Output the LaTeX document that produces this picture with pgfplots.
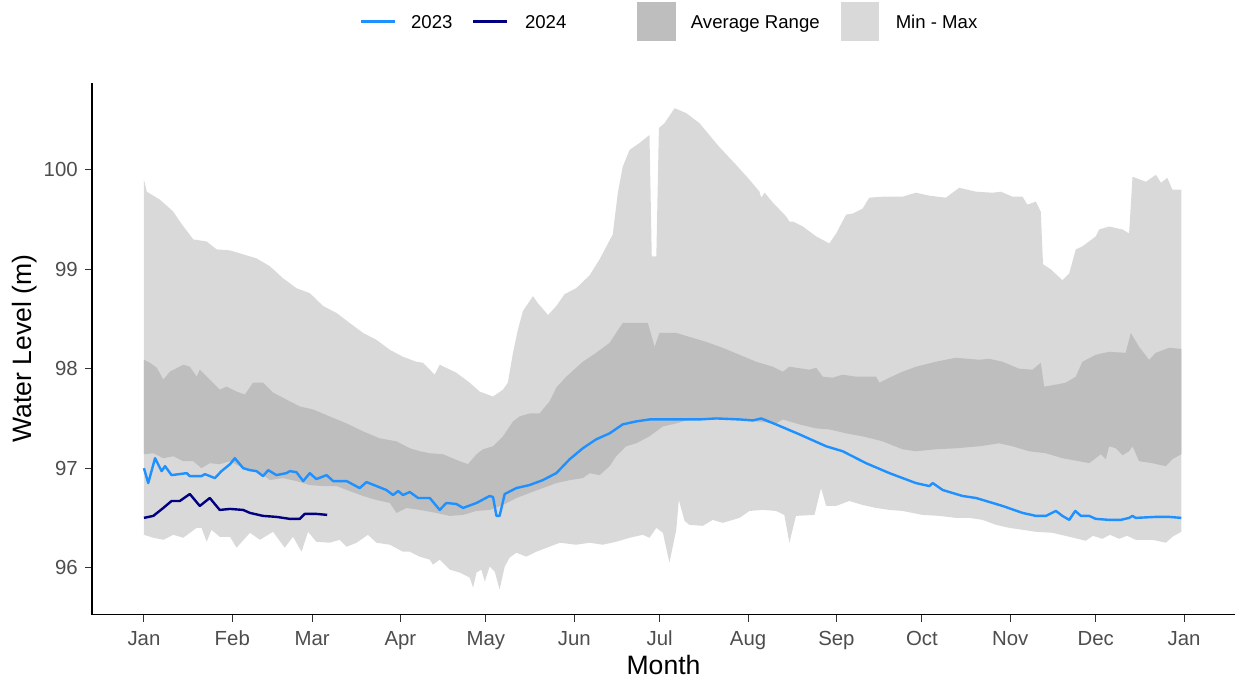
\documentclass[border=0pt]{standalone}
\usepackage{fontspec}
\setmainfont{Liberation Sans}
\usepackage{pgfplots}
\pgfplotsset{compat=1.18}
\usepackage{pgfplotstable}
\usepgfplotslibrary{fillbetween}

\definecolor{c2023}{RGB}{30,144,255}
\definecolor{c2024}{RGB}{0,0,128}
\definecolor{avgfill}{RGB}{190,190,190}
\definecolor{mmfill}{RGB}{217,217,217}
\definecolor{ticktext}{RGB}{77,77,77}
\definecolor{tickmark}{RGB}{51,51,51}

% daily maximum over record
\pgfplotstableread{
day level
0 99.90
1 99.78
5.6 99.70
10.3 99.58
12.6 99.48
17.3 99.30
22.0 99.28
25.5 99.20
30.2 99.19
34.8 99.15
39.5 99.11
44.2 99.03
48.8 98.91
53.5 98.81
58.2 98.76
62.9 98.63
67.6 98.56
72.2 98.46
76.9 98.36
81.6 98.29
86.3 98.19
90.9 98.12
95.6 98.07
97.9 98.06
102.0 97.94
103.8 98.04
109.6 97.96
114.3 97.86
117.8 97.77
122.5 97.72
126.0 97.79
127.7 97.86
129.5 98.16
131.2 98.39
133.0 98.58
136.5 98.73
138.2 98.66
141.8 98.54
144.7 98.63
147.6 98.75
151.7 98.81
156.4 98.94
159.9 99.10
164.5 99.35
166.3 99.77
168.0 100.03
170.4 100.20
173.9 100.27
177.4 100.35
178.2 99.13
179.8 99.13
180.7 100.42
182.7 100.47
186.2 100.62
190.3 100.57
194.9 100.47
201.9 100.23
207.8 100.05
212.5 99.90
216.0 99.78
216.6 99.72
217.8 99.77
220.7 99.67
225.4 99.53
226.5 99.48
227.7 99.48
231.2 99.43
235.9 99.33
240.5 99.26
242.9 99.36
246.4 99.55
248.7 99.56
252.2 99.61
254.5 99.72
259.2 99.73
266.2 99.73
270.9 99.77
275.6 99.74
281.4 99.72
286.1 99.82
292.0 99.78
297.8 99.77
300.7 99.78
304.8 99.73
308.3 99.73
310.0 99.65
313.0 99.68
314.7 99.58
315.5 99.05
318.2 99.00
322.3 98.89
324.7 98.96
327.0 99.20
329.3 99.23
334.0 99.33
335.2 99.40
338.7 99.43
343.4 99.40
345.7 99.36
346.9 99.93
351.6 99.88
355.1 99.95
356.9 99.87
359.1 99.92
360.9 99.80
364 99.80
}\maxtab

% daily minimum over record
\pgfplotstableread{
day level
0 96.33
3.3 96.30
6.8 96.28
10.3 96.33
13.8 96.30
18.5 96.40
20.2 96.40
22.0 96.26
23.7 96.38
26.6 96.31
30.2 96.31
32.5 96.20
37.2 96.35
40.7 96.28
45.3 96.36
49.4 96.20
52.3 96.31
55.3 96.16
57.6 96.36
60.5 96.26
65.2 96.25
68.7 96.28
71.1 96.21
74.6 96.25
78.6 96.33
81.6 96.25
86.3 96.23
90.9 96.16
93.3 96.16
96.8 96.11
100.3 96.08
101.4 96.03
103.8 96.08
107.3 95.98
110.8 95.95
114.3 95.90
115.5 95.80
116.7 95.95
118.4 95.98
119.6 95.86
121.3 96.01
123.1 95.96
124.8 95.78
126.6 96.01
128.3 96.10
130.7 96.15
134.2 96.11
137.7 96.16
142.3 96.21
145.9 96.25
151.7 96.23
156.4 96.25
161.0 96.23
165.7 96.26
170.4 96.30
175.1 96.33
177.4 96.30
179.8 96.40
182.1 96.35
184.4 96.05
186.8 96.38
187.7 96.68
189.7 96.47
191.4 96.43
196.1 96.42
199.6 96.48
203.1 96.45
209.0 96.50
212.5 96.57
217.1 96.58
221.8 96.57
224.7 96.53
226.5 96.25
228.8 96.52
235.3 96.53
237.6 96.80
239.4 96.62
242.9 96.62
247.5 96.67
252.2 96.63
256.9 96.60
261.6 96.58
266.2 96.57
273.2 96.53
279.1 96.52
284.9 96.50
289.6 96.50
294.3 96.48
299.0 96.43
303.6 96.40
308.3 96.38
313.0 96.36
318.8 96.35
324.7 96.31
330.5 96.27
333.0 96.32
336.3 96.29
339.0 96.33
342.2 96.29
345.0 96.32
348.0 96.28
353.9 96.28
358.6 96.25
360.9 96.31
364 96.36
}\mintab

% upper edge of the average range
\pgfplotstableread{
day level
0 98.09
2.1 98.06
4.5 98.01
6.8 97.89
9.1 97.97
13.8 98.04
16.1 98.02
18.5 97.92
19.6 97.99
23.1 97.89
26.6 97.79
29.0 97.82
32.5 97.77
35.4 97.74
38.3 97.86
41.8 97.86
45.3 97.76
50.0 97.69
54.7 97.62
59.4 97.59
65.2 97.52
71.1 97.45
76.9 97.37
82.7 97.30
88.6 97.27
93.3 97.20
96.8 97.17
100.3 97.15
104.9 97.14
110.8 97.07
113.7 97.04
116.7 97.14
119.0 97.19
122.5 97.22
126.0 97.32
129.5 97.47
131.8 97.52
135.3 97.55
138.8 97.55
142.3 97.67
144.7 97.81
148.2 97.92
154.0 98.07
158.7 98.16
163.4 98.26
168.0 98.46
176.8 98.46
179.2 98.22
180.9 98.36
186.8 98.36
191.4 98.32
197.3 98.27
203.1 98.21
209.0 98.14
214.8 98.07
220.7 98.02
224.2 97.97
226.5 98.02
233.5 97.99
235.9 98.01
238.2 97.92
241.7 97.91
245.2 97.94
249.9 97.92
256.9 97.92
258.1 97.86
261.6 97.91
266.2 97.97
270.9 98.02
277.9 98.07
284.9 98.11
293.1 98.09
296.6 98.10
301.3 98.07
307.1 98.00
311.8 97.99
314.7 98.06
315.9 97.82
320.0 97.84
323.5 97.86
327.0 97.92
329.3 98.07
334.0 98.14
338.7 98.17
344.5 98.16
346.3 98.36
349.2 98.22
352.7 98.09
355.1 98.16
359.7 98.21
364 98.20
}\avguptab

% lower edge of the average range
\pgfplotstableread{
day level
0 97.14
3.3 97.15
6.8 97.10
10.3 97.12
13.8 97.07
17.3 97.07
20.2 97.00
23.1 97.05
26.6 97.04
30.2 97.07
34.8 97.00
39.5 96.98
44.2 96.88
48.8 96.90
53.5 96.87
58.2 96.83
62.9 96.82
67.6 96.82
72.2 96.77
76.9 96.72
81.6 96.68
86.3 96.65
88.6 96.55
92.1 96.60
96.8 96.58
102.6 96.55
107.3 96.52
112.0 96.53
116.7 96.57
121.3 96.58
126.0 96.63
130.7 96.70
135.3 96.75
140.0 96.80
144.7 96.85
149.4 96.88
154.0 96.90
156.4 96.95
159.9 96.93
163.4 97.02
165.7 97.12
169.2 97.22
172.7 97.25
177.4 97.32
182.1 97.42
186.8 97.45
191.4 97.49
203.1 97.49
214.8 97.47
221.8 97.45
224.2 97.49
230.0 97.44
235.9 97.40
240.5 97.39
246.4 97.35
252.2 97.32
259.2 97.27
266.2 97.19
270.9 97.17
277.9 97.19
284.9 97.20
293.1 97.22
300.1 97.25
304.8 97.22
310.6 97.17
316.5 97.15
322.3 97.10
328.2 97.07
331.7 97.05
335.8 97.14
337.5 97.09
338.7 97.22
341.1 97.20
343.4 97.13
345.7 97.17
346.9 97.22
349.2 97.07
353.9 97.05
358.6 97.02
360.9 97.09
364 97.14
}\avglowtab

% 2023
\pgfplotstableread{
day level
0 97.00
1.5 96.85
3.9 97.10
6.2 96.97
7.4 97.02
9.7 96.93
15.0 96.95
16.1 96.92
20.2 96.92
21.4 96.94
24.9 96.90
27.2 96.97
30.2 97.04
31.9 97.10
34.8 97.00
37.2 96.98
39.5 96.97
41.8 96.92
43.6 96.98
46.5 96.93
50.0 96.95
51.2 96.97
53.5 96.96
55.9 96.87
58.2 96.95
60.5 96.89
64.1 96.93
66.4 96.87
71.1 96.87
75.7 96.80
78.1 96.86
81.6 96.82
85.1 96.78
87.4 96.73
89.2 96.77
90.9 96.73
93.3 96.76
96.2 96.70
100.3 96.70
103.8 96.58
106.1 96.65
109.6 96.64
112.0 96.60
116.7 96.65
121.3 96.72
122.5 96.71
123.7 96.52
124.8 96.52
126.6 96.74
130.7 96.80
135.3 96.83
140.0 96.88
144.7 96.95
149.4 97.09
154.0 97.20
158.7 97.29
163.4 97.35
168.0 97.44
172.7 97.47
177.4 97.49
186.8 97.49
194.9 97.49
200.8 97.50
209.0 97.49
213.7 97.48
216.6 97.50
221.8 97.44
230.0 97.34
239.4 97.22
245.2 97.17
253.4 97.05
261.6 96.95
270.9 96.85
275.6 96.82
276.8 96.85
280.3 96.78
287.3 96.72
292.0 96.70
301.3 96.62
308.3 96.55
313.0 96.52
316.5 96.52
320.0 96.57
322.3 96.52
324.7 96.48
326.8 96.57
328.8 96.52
331.7 96.52
334.0 96.49
338.7 96.48
342.8 96.48
345.7 96.50
346.9 96.52
348.0 96.50
355.1 96.51
359.7 96.51
364 96.50
}\yeara

% 2024
\pgfplotstableread{
day level
0 96.50
3.3 96.52
6.8 96.60
9.7 96.67
12.6 96.67
16.1 96.74
19.6 96.62
23.1 96.70
26.6 96.58
30.2 96.59
34.8 96.58
37.2 96.55
41.8 96.52
46.5 96.51
51.2 96.49
54.7 96.49
56.4 96.54
60.5 96.54
64.3 96.53
}\yearb

\begin{document}
\begin{tikzpicture}
\path (0,0) rectangle (618pt,341.5pt);
\begin{axis}[
    at={(46pt,34pt)}, anchor=south west,
    width=572pt, height=266pt, scale only axis,
    xmin=-18.25, xmax=382.9,
    ymin=95.528, ymax=100.874,
    axis x line*=bottom, axis y line*=left,
    axis line style={-, line width=0.9pt, black},
    xtick={0,31,59,90,120,151,181,212,243,273,304,334,365},
    xticklabels={Jan,Feb,Mar,Apr,May,Jun,Jul,Aug,Sep,Oct,Nov,Dec,Jan},
    ytick={96,97,98,99,100},
    tick align=outside,
    major tick length=3.5pt,
    tick style={line width=0.55pt, tickmark},
    /pgf/number format/assume math mode=true,
    ticklabel style={font=\fontsize{10.2}{12}\selectfont, text=ticktext, inner sep=0pt},
    xticklabel style={anchor=base, yshift=-11.8pt},
    yticklabel style={anchor=east, xshift=-3.4pt},
]
\addplot[name path=mx, draw=none] table[x=day, y=level] {\maxtab};
\addplot[name path=mn, draw=none] table[x=day, y=level] {\mintab};
\addplot[mmfill, draw=none] fill between[of=mx and mn];
\addplot[name path=au, draw=none] table[x=day, y=level] {\avguptab};
\addplot[name path=al, draw=none] table[x=day, y=level] {\avglowtab};
\addplot[avgfill, draw=none] fill between[of=au and al];
\addplot[c2023, line width=1.2pt, line join=round] table[x=day, y=level] {\yeara};
\addplot[c2024, line width=1.2pt, line join=round] table[x=day, y=level] {\yearb};
\end{axis}

% axis titles
\node[anchor=base, inner sep=0pt, font=\fontsize{13.3}{16}\selectfont] at (332pt,4pt) {Month};
\node[anchor=base, inner sep=0pt, rotate=90, font=\fontsize{13.3}{16}\selectfont] at (16pt,167pt) {Water Level (m)};

% legend
\begin{scope}[font=\fontsize{9.3}{11}\selectfont]
\draw[c2023, line width=1.2pt] (180.8pt,330.7pt) -- (197.5pt,330.7pt);
\node[anchor=base west, inner sep=0pt] at (205.5pt,327.3pt) {2023};
\draw[c2024, line width=1.2pt] (236.7pt,330.7pt) -- (253.7pt,330.7pt);
\node[anchor=base west, inner sep=0pt] at (262.5pt,327.3pt) {2024};
\fill[avgfill] (318.7pt,321.2pt) rectangle (338pt,340.7pt);
\node[anchor=base west, inner sep=0pt] at (345.5pt,327.3pt) {Average Range};
\fill[mmfill] (421pt,321.2pt) rectangle (440pt,340.7pt);
\node[anchor=base west, inner sep=0pt] at (448pt,327.3pt) {Min - Max};
\end{scope}
\end{tikzpicture}
\end{document}
